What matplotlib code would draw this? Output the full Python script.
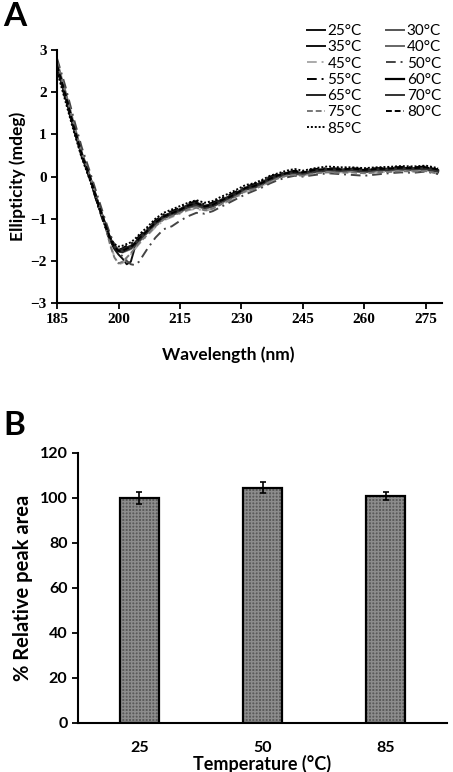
import matplotlib
matplotlib.use('Agg')
import matplotlib.pyplot as plt

# ---- panel A : CD spectra ----
wavelength = [185, 187, 189, 191, 193, 195, 197, 198, 199, 200, 201, 202, 203, 204, 205,
              207, 209, 211, 213, 215, 217, 219, 221, 223, 225, 227, 229, 231, 233, 235,
              237, 239, 241, 243, 245, 248, 251, 254, 257, 260, 263, 266, 269, 272, 275, 278]

t25 = [2.65, 1.95, 1.22, 0.52, -0.02, -0.65, -1.22, -1.52, -1.72, -1.85, -1.95, -2.08, -2.02, -1.68, -1.55,
       -1.30, -1.10, -0.96, -0.88, -0.80, -0.70, -0.66, -0.76, -0.70, -0.58, -0.50, -0.40, -0.28, -0.24, -0.16,
       -0.06, 0.02, 0.06, 0.10, 0.06, 0.14, 0.16, 0.15, 0.17, 0.12, 0.16, 0.17, 0.20, 0.17, 0.19, 0.14]
t30 = [2.72, 2.02, 1.28, 0.58, 0.02, -0.60, -1.18, -1.46, -1.64, -1.74, -1.76, -1.72, -1.68, -1.60, -1.48,
       -1.30, -1.10, -0.96, -0.92, -0.84, -0.74, -0.68, -0.72, -0.68, -0.62, -0.54, -0.44, -0.32, -0.28, -0.20,
       -0.10, -0.02, 0.04, 0.06, 0.04, 0.10, 0.13, 0.12, 0.13, 0.10, 0.13, 0.14, 0.16, 0.15, 0.16, 0.10]
t35 = [2.60, 1.90, 1.18, 0.50, -0.04, -0.66, -1.24, -1.50, -1.68, -1.76, -1.74, -1.70, -1.66, -1.58, -1.46,
       -1.28, -1.08, -0.94, -0.86, -0.78, -0.68, -0.62, -0.70, -0.66, -0.56, -0.48, -0.38, -0.28, -0.22, -0.14,
       -0.04, 0.03, 0.08, 0.10, 0.08, 0.14, 0.17, 0.16, 0.16, 0.14, 0.17, 0.18, 0.19, 0.19, 0.20, 0.15]
t40 = [2.68, 1.98, 1.24, 0.54, -0.01, -0.63, -1.20, -1.48, -1.66, -1.78, -1.80, -1.76, -1.72, -1.64, -1.52,
       -1.34, -1.14, -1.00, -0.92, -0.84, -0.74, -0.70, -0.76, -0.72, -0.62, -0.54, -0.44, -0.32, -0.27, -0.19,
       -0.09, -0.01, 0.04, 0.07, 0.05, 0.11, 0.14, 0.13, 0.14, 0.11, 0.14, 0.15, 0.17, 0.16, 0.17, 0.11]
t45 = [2.75, 2.05, 1.30, 0.60, 0.04, -0.60, -1.25, -1.62, -1.90, -2.08, -2.05, -1.95, -1.85, -1.72, -1.60,
       -1.40, -1.20, -1.04, -0.96, -0.88, -0.80, -0.76, -0.82, -0.76, -0.66, -0.58, -0.48, -0.36, -0.30, -0.22,
       -0.12, -0.04, 0.02, 0.05, 0.03, 0.08, 0.11, 0.10, 0.11, 0.08, 0.11, 0.12, 0.14, 0.13, 0.14, 0.08]
t50 = [2.80, 2.15, 1.40, 0.70, 0.12, -0.50, -1.10, -1.38, -1.60, -1.78, -1.90, -2.00, -2.08, -2.10, -2.02,
       -1.72, -1.45, -1.25, -1.18, -1.05, -0.94, -0.86, -0.88, -0.82, -0.72, -0.62, -0.52, -0.42, -0.34, -0.26,
       -0.16, -0.08, -0.02, 0.02, 0.00, 0.04, 0.08, 0.06, 0.04, 0.02, 0.05, 0.08, 0.10, 0.09, 0.12, 0.06]
t55 = [2.55, 1.85, 1.15, 0.48, -0.06, -0.70, -1.28, -1.55, -1.70, -1.74, -1.70, -1.64, -1.60, -1.52, -1.42,
       -1.24, -1.04, -0.90, -0.82, -0.74, -0.64, -0.58, -0.66, -0.62, -0.52, -0.44, -0.34, -0.24, -0.18, -0.10,
       0.00, 0.06, 0.10, 0.14, 0.12, 0.18, 0.20, 0.19, 0.20, 0.18, 0.20, 0.21, 0.23, 0.22, 0.24, 0.18]
t60 = [2.62, 1.94, 1.20, 0.53, -0.02, -0.64, -1.22, -1.50, -1.68, -1.77, -1.78, -1.73, -1.69, -1.61, -1.49,
       -1.31, -1.11, -0.97, -0.89, -0.81, -0.71, -0.65, -0.73, -0.69, -0.59, -0.51, -0.41, -0.29, -0.25, -0.17,
       -0.07, 0.01, 0.06, 0.09, 0.07, 0.13, 0.16, 0.15, 0.16, 0.13, 0.16, 0.17, 0.19, 0.18, 0.19, 0.13]
t65 = [2.58, 1.92, 1.19, 0.51, -0.03, -0.67, -1.24, -1.52, -1.69, -1.75, -1.72, -1.68, -1.64, -1.57, -1.45,
       -1.27, -1.07, -0.93, -0.85, -0.77, -0.67, -0.62, -0.69, -0.65, -0.55, -0.47, -0.37, -0.26, -0.21, -0.13,
       -0.03, 0.04, 0.09, 0.11, 0.09, 0.15, 0.18, 0.17, 0.18, 0.15, 0.18, 0.19, 0.21, 0.20, 0.21, 0.16]
t70 = [2.66, 1.97, 1.23, 0.55, 0.00, -0.62, -1.19, -1.47, -1.65, -1.75, -1.77, -1.73, -1.69, -1.61, -1.50,
       -1.32, -1.12, -0.98, -0.90, -0.82, -0.72, -0.67, -0.74, -0.70, -0.60, -0.52, -0.42, -0.30, -0.26, -0.18,
       -0.08, 0.00, 0.05, 0.08, 0.06, 0.12, 0.15, 0.14, 0.15, 0.12, 0.15, 0.16, 0.18, 0.17, 0.18, 0.12]
t75 = [2.72, 2.03, 1.27, 0.57, 0.02, -0.62, -1.26, -1.64, -1.92, -2.06, -2.02, -1.92, -1.82, -1.70, -1.58,
       -1.38, -1.18, -1.02, -0.94, -0.86, -0.78, -0.74, -0.80, -0.76, -0.66, -0.56, -0.46, -0.34, -0.30, -0.22,
       -0.12, -0.04, 0.02, 0.04, 0.02, 0.08, 0.10, 0.09, 0.10, 0.08, 0.10, 0.11, 0.13, 0.12, 0.13, 0.07]
t80 = [2.64, 1.96, 1.22, 0.54, 0.00, -0.63, -1.21, -1.49, -1.67, -1.76, -1.76, -1.71, -1.67, -1.59, -1.47,
       -1.29, -1.09, -0.95, -0.87, -0.79, -0.69, -0.63, -0.71, -0.67, -0.57, -0.49, -0.39, -0.27, -0.23, -0.15,
       -0.05, 0.03, 0.08, 0.12, 0.10, 0.16, 0.18, 0.17, 0.19, 0.16, 0.18, 0.19, 0.21, 0.20, 0.22, 0.17]
t85 = [2.50, 1.80, 1.10, 0.45, -0.08, -0.68, -1.22, -1.46, -1.60, -1.66, -1.64, -1.60, -1.56, -1.48, -1.38,
       -1.20, -1.00, -0.86, -0.78, -0.70, -0.62, -0.56, -0.62, -0.58, -0.48, -0.40, -0.30, -0.20, -0.16, -0.08,
       0.02, 0.08, 0.14, 0.18, 0.14, 0.20, 0.24, 0.22, 0.22, 0.20, 0.22, 0.23, 0.25, 0.24, 0.26, 0.20]

spectra = [t25, t30, t35, t40, t45, t50, t55, t60, t65, t70, t75, t80, t85]
temp_labels = ['25°C', '30°C', '35°C', '40°C', '45°C', '50°C', '55°C',
               '60°C', '65°C', '70°C', '75°C', '80°C', '85°C']

# ---- panel B : relative peak area ----
temps = ['25', '50', '85']
peak_area = [100.0, 104.5, 100.8]
peak_err = [2.7, 2.3, 1.7]

dashdot = (0, (5, 2.5, 1, 2.5))
dashed = (0, (3, 1.5))
dotted = (0, (1, 1))
styles = [
    ('#111111', '-', 1.4), ('#555555', '-', 1.4), ('#111111', '-', 1.4),
    ('#666666', '-', 1.4), ('#aaaaaa', dashdot, 1.4), ('#444444', dashdot, 1.4),
    ('#000000', dashdot, 1.4), ('#000000', '-', 1.6), ('#222222', '-', 1.4),
    ('#333333', '-', 1.4), ('#777777', dashed, 1.4), ('#000000', dashed, 1.4),
    ('#000000', dotted, 1.4),
]

sans = ['Lato', 'DejaVu Sans']
serif = ['Liberation Serif', 'DejaVu Serif']

fig = plt.figure(figsize=(4.53, 7.72), dpi=100)

# panel A
ax1 = fig.add_axes([0.126, 0.6075, 0.85, 0.3275])
lines = []
for y, lab, (c, ls, lw) in zip(spectra, temp_labels, styles):
    ln, = ax1.plot(wavelength, y, color=c, linestyle=ls, linewidth=lw, label=lab)
    lines.append(ln)
ax1.set_xlim(185, 279)
ax1.set_ylim(-3, 3)
ax1.set_xticks([185, 200, 215, 230, 245, 260, 275])
ax1.set_yticks([-3, -2, -1, 0, 1, 2, 3])
ax1.spines['top'].set_visible(False)
ax1.spines['right'].set_visible(False)
for s in ['left', 'bottom']:
    ax1.spines[s].set_linewidth(1.5)
ax1.tick_params(direction='out', length=4, width=1.3, labelsize=11)
for t in ax1.get_xticklabels() + ax1.get_yticklabels():
    t.set_family(serif)
    t.set_weight('bold')
ax1.set_xlabel('Wavelength (nm)', family=sans, weight='bold', fontsize=12.5)
ax1.xaxis.set_label_coords(0.444, -0.17)
ax1.set_ylabel('Ellipticity (mdeg)', family=sans, weight='bold', fontsize=12.5, labelpad=3)

# legend filled row by row, as in the original
order = [0, 2, 4, 6, 8, 10, 12, 1, 3, 5, 7, 9, 11]
leg = ax1.legend(handles=[lines[i] for i in order], ncol=2, frameon=False, loc='upper right',
                 bbox_to_anchor=(441 / 453, 1 - 24 / 772), bbox_transform=fig.transFigure,
                 prop={'family': sans, 'size': 11}, handlelength=1.2, handletextpad=0.15,
                 columnspacing=1.6, labelspacing=0.15, borderpad=0, borderaxespad=0)

# panel B
ax2 = fig.add_axes([0.172, 0.0639, 0.815, 0.3497])
xpos = list(range(len(temps)))
ax2.bar(xpos, peak_area, width=0.32, color='#5a5a5a', edgecolor='#8c8c8c', linewidth=0, hatch='+++++')
ax2.bar(xpos, peak_area, width=0.32, fill=False, edgecolor='black', linewidth=1.6,
        yerr=peak_err, error_kw={'ecolor': 'black', 'elinewidth': 1.2, 'capsize': 2.5, 'capthick': 1.2})
ax2.set_xlim(-0.5, 2.5)
ax2.set_ylim(0, 120)
ax2.set_yticks(range(0, 121, 20))
ax2.set_xticks(xpos)
ax2.set_xticklabels(temps)
ax2.spines['top'].set_visible(False)
ax2.spines['right'].set_visible(False)
for s in ['left', 'bottom']:
    ax2.spines[s].set_linewidth(1.5)
ax2.tick_params(axis='y', direction='out', length=4, width=1.3, labelsize=11.5)
ax2.tick_params(axis='x', length=0, labelsize=11.5, pad=13)
for t in ax2.get_xticklabels() + ax2.get_yticklabels():
    t.set_family(sans)
    t.set_weight('bold')
ax2.set_xlabel('Temperature (°C)', family=sans, weight='bold', fontsize=13, labelpad=0)
ax2.set_ylabel('% Relative peak area', family=sans, weight='bold', fontsize=14.5, labelpad=5)

fig.text(0.008, 0.997, 'A', family=sans, weight='bold', fontsize=24, va='top', ha='left')
fig.text(0.008, 0.468, 'B', family=sans, weight='bold', fontsize=24, va='top', ha='left')

fig.savefig('out.png', dpi=100)
